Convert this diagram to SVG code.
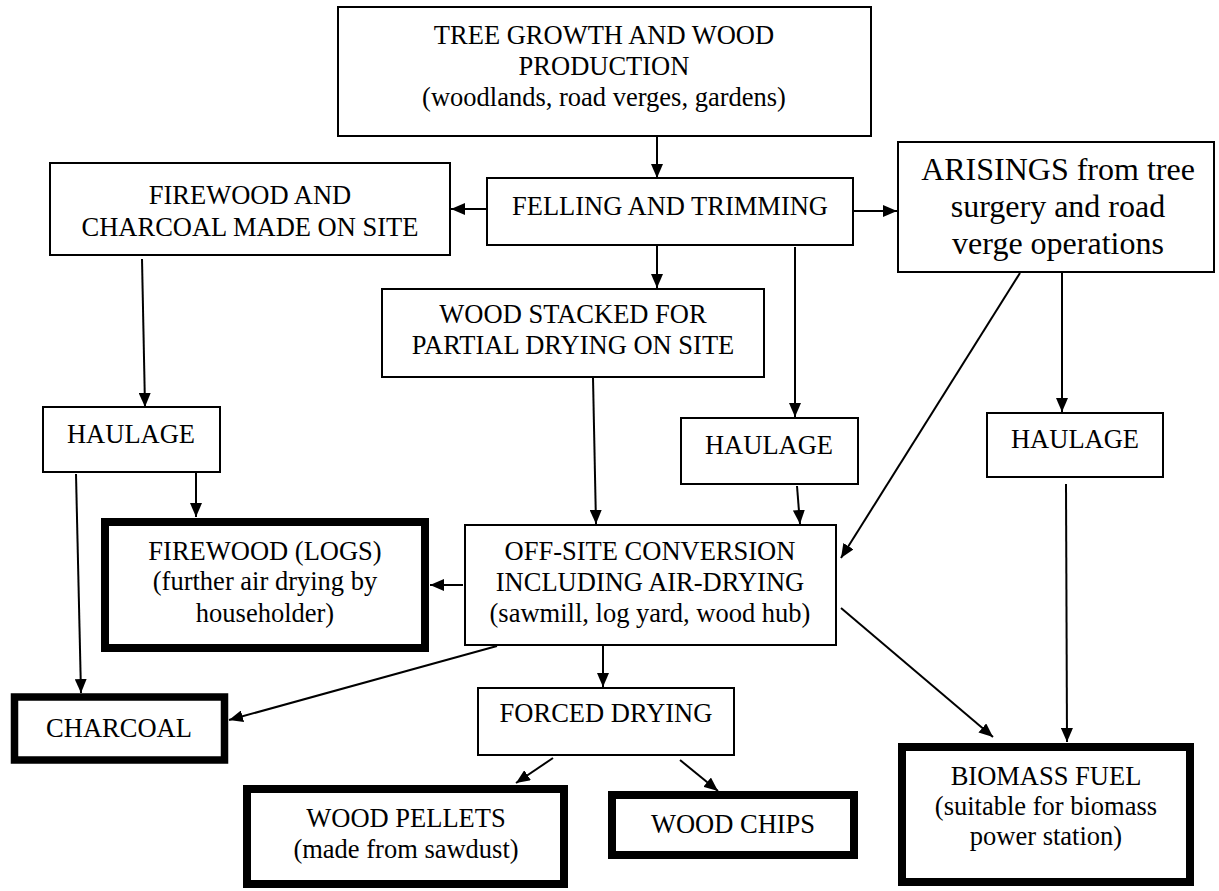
<svg xmlns="http://www.w3.org/2000/svg" width="1219" height="891" viewBox="0 0 1219 891">
<style>
.box{fill:#fff;stroke:#000;stroke-width:2}
.thick{fill:#fff;stroke:#000;stroke-width:8}
text{font-family:"Liberation Serif","Times New Roman",serif;font-size:26.5px;fill:#000;text-anchor:middle}
.big{font-size:32px}
.con line{stroke:#000;stroke-width:2;marker-end:url(#ah)}
</style>
<defs>
<marker id="ah" markerUnits="userSpaceOnUse" markerWidth="14" markerHeight="12" refX="14" refY="6" orient="auto">
<path d="M0,0 L14,6 L0,12 z" fill="#000"/>
</marker>
</defs>
<rect width="1219" height="891" fill="#fff"/>
<g id="n-tree">
<rect class="box" x="338" y="7" width="533" height="129"/>
<text x="604" y="44">TREE GROWTH AND WOOD</text>
<text x="604" y="75">PRODUCTION</text>
<text x="604" y="106">(woodlands, road verges, gardens)</text>
</g>
<g id="n-felling">
<rect class="box" x="487" y="178" width="366" height="67"/>
<text x="670" y="215">FELLING AND TRIMMING</text>
</g>
<g id="n-firewood-site">
<rect class="box" x="50" y="163" width="400" height="92"/>
<text x="250" y="204">FIREWOOD AND</text>
<text x="250" y="236">CHARCOAL MADE ON SITE</text>
</g>
<g id="n-arisings">
<rect class="box" x="898" y="142" width="316" height="130"/>
<text class="big" x="1058" y="180">ARISINGS from tree</text>
<text class="big" x="1058" y="217">surgery and road</text>
<text class="big" x="1058" y="254">verge operations</text>
</g>
<g id="n-stacked">
<rect class="box" x="382" y="289" width="382" height="88"/>
<text x="573" y="323">WOOD STACKED FOR</text>
<text x="573" y="354">PARTIAL DRYING ON SITE</text>
</g>
<g id="n-haulage-left">
<rect class="box" x="43" y="407" width="177" height="65"/>
<text x="131" y="443">HAULAGE</text>
</g>
<g id="n-haulage-mid">
<rect class="box" x="681" y="418" width="177" height="66"/>
<text x="769" y="454">HAULAGE</text>
</g>
<g id="n-haulage-right">
<rect class="box" x="987" y="413" width="176" height="64"/>
<text x="1075" y="448">HAULAGE</text>
</g>
<g id="n-logs">
<rect class="thick" x="105" y="522" width="320" height="126"/>
<text x="265" y="560">FIREWOOD (LOGS)</text>
<text x="265" y="590">(further air drying by</text>
<text x="265" y="622">householder)</text>
</g>
<g id="n-offsite">
<rect class="box" x="465" y="525" width="371" height="120"/>
<text x="650" y="560">OFF-SITE CONVERSION</text>
<text x="650" y="591">INCLUDING AIR-DRYING</text>
<text x="650" y="622">(sawmill, log yard, wood hub)</text>
</g>
<g id="n-forced">
<rect class="box" x="478" y="688" width="256" height="67"/>
<text x="606" y="722">FORCED DRYING</text>
</g>
<g id="n-charcoal">
<rect class="thick" x="14.5" y="697" width="210" height="63" style="stroke-width:7.5"/>
<text x="119" y="737">CHARCOAL</text>
</g>
<g id="n-pellets">
<rect class="thick" x="247" y="789" width="317" height="95"/>
<text x="406" y="827">WOOD PELLETS</text>
<text x="406" y="858">(made from sawdust)</text>
</g>
<g id="n-chips">
<rect class="thick" x="612" y="795" width="242" height="60"/>
<text x="733" y="833">WOOD CHIPS</text>
</g>
<g id="n-biomass">
<rect class="thick" x="902" y="747" width="288" height="135"/>
<text x="1046" y="785">BIOMASS FUEL</text>
<text x="1046" y="815">(suitable for biomass</text>
<text x="1046" y="845">power station)</text>
</g>
<g id="connectors" class="con">
<line x1="657" y1="137" x2="657" y2="178"/>
<line x1="487" y1="209" x2="451" y2="209"/>
<line x1="853" y1="211" x2="897" y2="211"/>
<line x1="657" y1="246" x2="657" y2="288"/>
<line x1="795" y1="247" x2="795" y2="417"/>
<line x1="142" y1="259" x2="145" y2="407"/>
<line x1="1062" y1="273" x2="1062" y2="412"/>
<line x1="1020" y1="273" x2="841" y2="558"/>
<line x1="196" y1="473" x2="196" y2="517"/>
<line x1="76" y1="474" x2="81" y2="693"/>
<line x1="593" y1="378" x2="596" y2="524"/>
<line x1="797" y1="486" x2="800" y2="524"/>
<line x1="463" y1="585" x2="430" y2="585"/>
<line x1="497" y1="646" x2="229" y2="720"/>
<line x1="603" y1="646" x2="603" y2="687"/>
<line x1="841" y1="608" x2="993" y2="737"/>
<line x1="1066" y1="484" x2="1067" y2="742"/>
<line x1="553" y1="758" x2="516" y2="783"/>
<line x1="680" y1="760" x2="718" y2="791"/>
</g>
</svg>
